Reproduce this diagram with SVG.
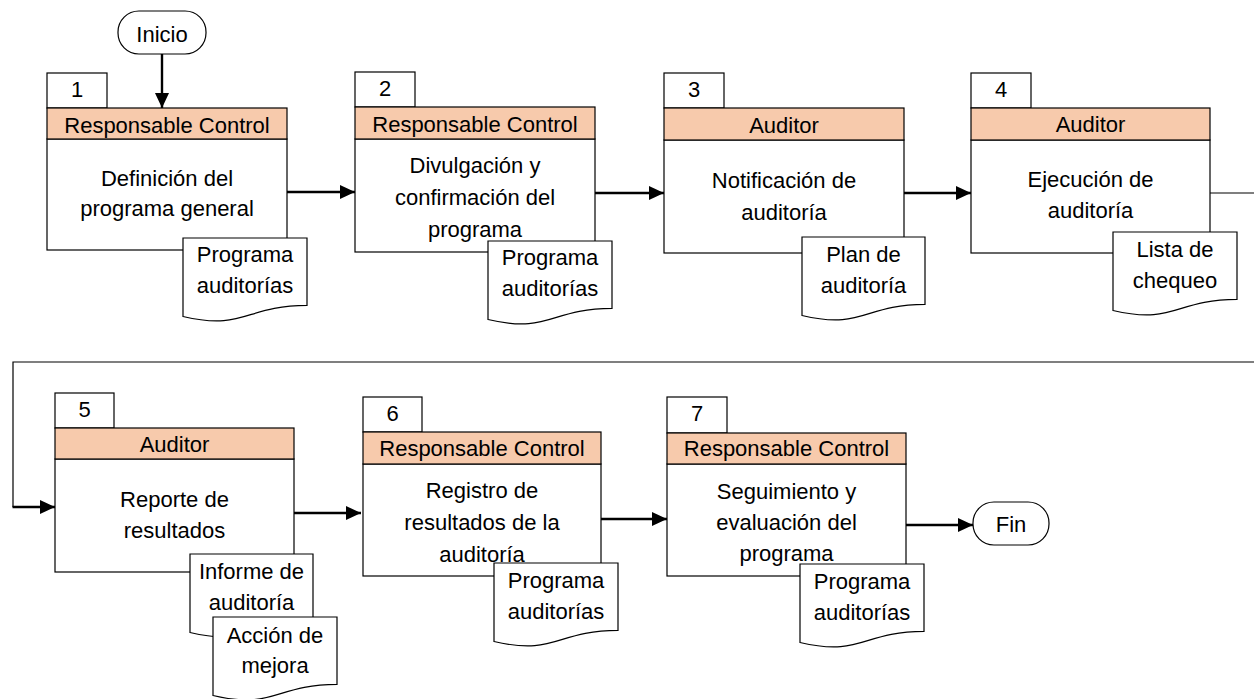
<svg xmlns="http://www.w3.org/2000/svg" width="1254" height="699" viewBox="0 0 1254 699">
  <style>
    text { font-family: "Liberation Sans", Arial, sans-serif; font-size: 22px; fill: #000; text-anchor: middle; }
    .box { fill: #fff; stroke: #000; stroke-width: 1.2; }
    .hdr { fill: #F7CAAC; stroke: #000; stroke-width: 1.2; }
    .doc { fill: #fff; stroke: #000; stroke-width: 1.2; }
    .term { fill: #fff; stroke: #000; stroke-width: 1.2; }
    .flow { fill: none; stroke: #000; stroke-width: 2.4; }
    .thin { fill: none; stroke: #000; stroke-width: 1.2; }
  </style>
  <defs>
    <marker id="arrow" viewBox="0 0 15 14" refX="15" refY="7" markerWidth="15" markerHeight="14" markerUnits="userSpaceOnUse" orient="auto">
      <path d="M0,0 L15,7 L0,14 Z" fill="#000"/>
    </marker>
  </defs>

  <rect width="1254" height="699" fill="#fff"/>

  <!-- connectors -->
  <g id="connectors">
    <path class="flow" d="M162,54 V108" marker-end="url(#arrow)"/>
    <path class="flow" d="M287,192 H355" marker-end="url(#arrow)"/>
    <path class="flow" d="M595,193 H664" marker-end="url(#arrow)"/>
    <path class="flow" d="M904,193 H971" marker-end="url(#arrow)"/>
    <path class="thin" d="M1210,193 H1254"/>
    <path class="thin" d="M1254,362 H13 V507"/>
    <path class="flow" d="M12.5,507 H55" marker-end="url(#arrow)"/>
    <path class="flow" d="M294,513 H361" marker-end="url(#arrow)"/>
    <path class="flow" d="M598,519 H667" marker-end="url(#arrow)"/>
    <path class="flow" d="M906,525 H973" marker-end="url(#arrow)"/>
  </g>

  <!-- terminals -->
  <g id="inicio">
    <rect class="term" x="118" y="11" width="88" height="43" rx="21" ry="21"/>
    <text x="162" y="42">Inicio</text>
  </g>
  <g id="fin">
    <rect class="term" x="973" y="502" width="76" height="43" rx="21" ry="21"/>
    <text x="1011" y="532">Fin</text>
  </g>

  <!-- step 1 -->
  <g id="step1">
    <rect class="box" x="47" y="73" width="60" height="35"/>
    <text x="77" y="97">1</text>
    <rect class="box" x="47" y="139" width="240" height="111"/>
    <rect class="hdr" x="47" y="108" width="240" height="31"/>
    <text x="167" y="133">Responsable Control</text>
    <text x="167" y="186">Definición del</text>
    <text x="167" y="216">programa general</text>
    <path class="doc" d="M183,238 H307 V305.4 C245,305.4 245,331 183,316.5 Z"/>
    <text x="245" y="262">Programa</text>
    <text x="245" y="293">auditorías</text>
  </g>

  <!-- step 2 -->
  <g id="step2">
    <rect class="box" x="355" y="72" width="60" height="35"/>
    <text x="385" y="96">2</text>
    <rect class="box" x="355" y="139" width="240" height="113"/>
    <rect class="hdr" x="355" y="107" width="240" height="32"/>
    <text x="475" y="132">Responsable Control</text>
    <text x="475" y="173">Divulgación y</text>
    <text x="475" y="205">confirmación del</text>
    <text x="475" y="237">programa</text>
    <path class="doc" d="M488,241 H612 V308.4 C550,308.4 550,334 488,319.5 Z"/>
    <text x="550" y="265">Programa</text>
    <text x="550" y="296">auditorías</text>
  </g>

  <!-- step 3 -->
  <g id="step3">
    <rect class="box" x="664" y="73" width="60" height="35"/>
    <text x="694" y="97">3</text>
    <rect class="box" x="664" y="140" width="240" height="113"/>
    <rect class="hdr" x="664" y="108" width="240" height="32"/>
    <text x="784" y="133">Auditor</text>
    <text x="784" y="188">Notificación de</text>
    <text x="784" y="220">auditoría</text>
    <path class="doc" d="M802,237 H925 V304.4 C863.5,304.4 863.5,330 802,315.5 Z"/>
    <text x="863.5" y="262">Plan de</text>
    <text x="863.5" y="293">auditoría</text>
  </g>

  <!-- step 4 -->
  <g id="step4">
    <rect class="box" x="971" y="73" width="60" height="35"/>
    <text x="1001" y="97">4</text>
    <rect class="box" x="971" y="140" width="239" height="113"/>
    <rect class="hdr" x="971" y="108" width="239" height="32"/>
    <text x="1090.5" y="132">Auditor</text>
    <text x="1090.5" y="187">Ejecución de</text>
    <text x="1090.5" y="218">auditoría</text>
    <path class="doc" d="M1113,232 H1237 V299.4 C1175,299.4 1175,325 1113,310.5 Z"/>
    <text x="1175" y="257">Lista de</text>
    <text x="1175" y="288">chequeo</text>
  </g>

  <!-- step 5 -->
  <g id="step5">
    <rect class="box" x="55" y="393" width="59" height="35"/>
    <text x="84.5" y="417">5</text>
    <rect class="box" x="55" y="459" width="239" height="113"/>
    <rect class="hdr" x="55" y="428" width="239" height="31"/>
    <text x="174.5" y="452">Auditor</text>
    <text x="174.5" y="507">Reporte de</text>
    <text x="174.5" y="538">resultados</text>
    <path class="doc" d="M190,554 H313 V621.4 C251.5,621.4 251.5,647 190,632.5 Z"/>
    <text x="251.5" y="579">Informe de</text>
    <text x="251.5" y="610">auditoría</text>
    <path class="doc" d="M213,617 H337 V684.4 C275,684.4 275,710 213,695.5 Z"/>
    <text x="275" y="643">Acción de</text>
    <text x="275" y="673">mejora</text>
  </g>

  <!-- step 6 -->
  <g id="step6">
    <rect class="box" x="363" y="397" width="59" height="35"/>
    <text x="392.5" y="421">6</text>
    <rect class="box" x="363" y="464" width="238" height="112"/>
    <rect class="hdr" x="363" y="432" width="238" height="32"/>
    <text x="482" y="456">Responsable Control</text>
    <text x="482" y="498">Registro de</text>
    <text x="482" y="530">resultados de la</text>
    <text x="482" y="562">auditoría</text>
    <path class="doc" d="M494,563 H618 V630.4 C556,630.4 556,656 494,641.5 Z"/>
    <text x="556" y="588">Programa</text>
    <text x="556" y="619">auditorías</text>
  </g>

  <!-- step 7 -->
  <g id="step7">
    <rect class="box" x="667" y="397" width="60" height="36"/>
    <text x="697" y="421">7</text>
    <rect class="box" x="667" y="464" width="239" height="112"/>
    <rect class="hdr" x="667" y="433" width="239" height="31"/>
    <text x="786.5" y="456">Responsable Control</text>
    <text x="786.5" y="499">Seguimiento y</text>
    <text x="786.5" y="530">evaluación del</text>
    <text x="786.5" y="561">programa</text>
    <path class="doc" d="M800,564 H924 V631.4 C862,631.4 862,657 800,642.5 Z"/>
    <text x="862" y="589">Programa</text>
    <text x="862" y="620">auditorías</text>
  </g>
</svg>
